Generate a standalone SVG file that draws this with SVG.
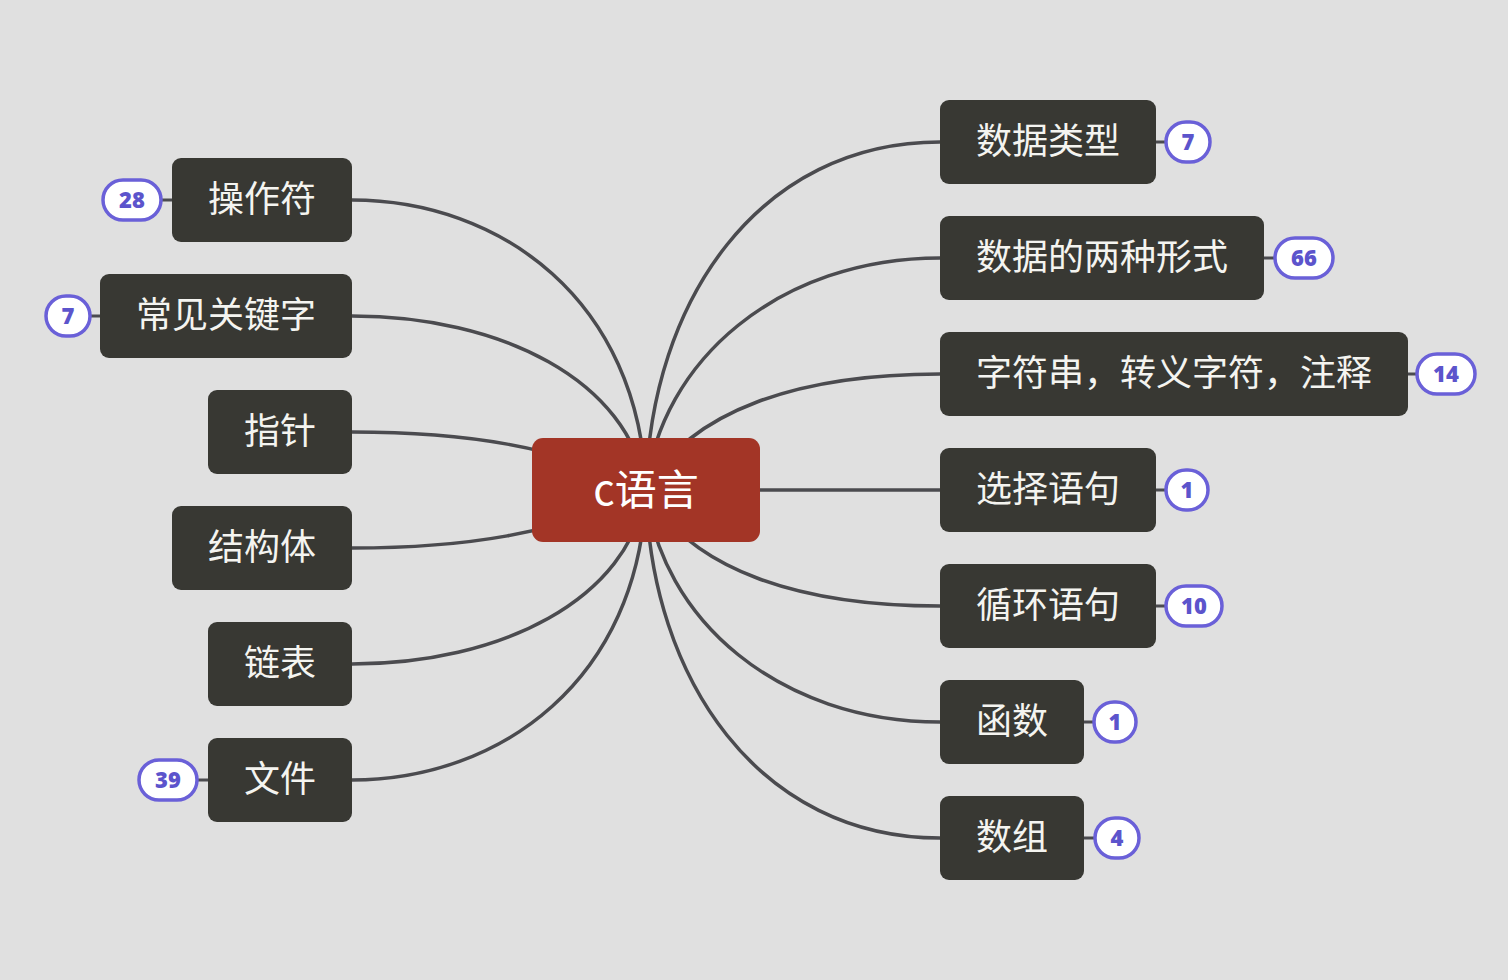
<svg xmlns="http://www.w3.org/2000/svg" width="1508" height="980" viewBox="0 0 1508 980">
<style>
.conn{fill:none;stroke:#4b4b4f;stroke-width:3.5;stroke-linecap:round}
.node rect{fill:#383833}
.node text{fill:#f4f4f0;font-family:"Noto Sans CJK SC","Noto Sans",sans-serif;font-size:36px;text-anchor:middle;dominant-baseline:central}
.root rect{fill:#a33526}
.root text{fill:#ffffff;font-family:"Noto Sans CJK SC","Noto Sans",sans-serif;font-size:42px;text-anchor:middle;dominant-baseline:central}
.badge rect{fill:#ffffff;stroke:#6a60d8;stroke-width:3.5}
.badge text{fill:#5c54cc;font-family:"Noto Sans","DejaVu Sans",sans-serif;font-weight:900;font-size:22px;text-anchor:middle;dominant-baseline:central}
.tick{stroke:#4b4b4f;stroke-width:3}
</style>
<rect width="1508" height="980" fill="#e0e0e0"/>
<g id="connectors">
<path class="conn" d="M352 200 C500 200 640 300 646 490"/>
<path class="conn" d="M352 316 C500 316 630 380 646 490"/>
<path class="conn" d="M352 432 C460 432 560 445 646 490"/>
<path class="conn" d="M352 548 C460 548 560 535 646 490"/>
<path class="conn" d="M352 664 C500 664 630 600 646 490"/>
<path class="conn" d="M352 780 C500 780 640 680 646 490"/>
<path class="conn" d="M940 142 C760 142 650 300 646 490"/>
<path class="conn" d="M940 258 C780 258 660 360 646 490"/>
<path class="conn" d="M940 374 C800 374 690 410 646 490"/>
<path class="conn" d="M760 490 L940 490"/>
<path class="conn" d="M940 606 C800 606 690 570 646 490"/>
<path class="conn" d="M940 722 C780 722 660 620 646 490"/>
<path class="conn" d="M940 838 C760 838 650 680 646 490"/>
<line class="tick" x1="1156" y1="142" x2="1168" y2="142"/>
<line class="tick" x1="1264" y1="258" x2="1276" y2="258"/>
<line class="tick" x1="1408" y1="374" x2="1418" y2="374"/>
<line class="tick" x1="1156" y1="490" x2="1168" y2="490"/>
<line class="tick" x1="1156" y1="606" x2="1168" y2="606"/>
<line class="tick" x1="1084" y1="722" x2="1096" y2="722"/>
<line class="tick" x1="1084" y1="838" x2="1096" y2="838"/>
<line class="tick" x1="160" y1="200" x2="172" y2="200"/>
<line class="tick" x1="88" y1="316" x2="100" y2="316"/>
<line class="tick" x1="196" y1="780" x2="208" y2="780"/>
</g>
<g id="root" class="root"><rect x="532" y="438" width="228" height="104" rx="11"/><text x="646" y="486">c语言</text></g>
<g id="n-caozuofu" class="node"><rect x="172" y="158" width="180" height="84" rx="9"/><text x="262" y="196">操作符</text></g>
<g id="n-changjian" class="node"><rect x="100" y="274" width="252" height="84" rx="9"/><text x="226" y="312">常见关键字</text></g>
<g id="n-zhizhen" class="node"><rect x="208" y="390" width="144" height="84" rx="9"/><text x="280" y="428">指针</text></g>
<g id="n-jiegouti" class="node"><rect x="172" y="506" width="180" height="84" rx="9"/><text x="262" y="544">结构体</text></g>
<g id="n-lianbiao" class="node"><rect x="208" y="622" width="144" height="84" rx="9"/><text x="280" y="660">链表</text></g>
<g id="n-wenjian" class="node"><rect x="208" y="738" width="144" height="84" rx="9"/><text x="280" y="776">文件</text></g>
<g id="n-shujuleixing" class="node"><rect x="940" y="100" width="216" height="84" rx="9"/><text x="1048" y="138">数据类型</text></g>
<g id="n-liangzhong" class="node"><rect x="940" y="216" width="324" height="84" rx="9"/><text x="1102" y="254">数据的两种形式</text></g>
<g id="n-zifuchuan" class="node"><rect x="940" y="332" width="468" height="84" rx="9"/><text x="1174" y="370">字符串，转义字符，注释</text></g>
<g id="n-xuanze" class="node"><rect x="940" y="448" width="216" height="84" rx="9"/><text x="1048" y="486">选择语句</text></g>
<g id="n-xunhuan" class="node"><rect x="940" y="564" width="216" height="84" rx="9"/><text x="1048" y="602">循环语句</text></g>
<g id="n-hanshu" class="node"><rect x="940" y="680" width="144" height="84" rx="9"/><text x="1012" y="718">函数</text></g>
<g id="n-shuzu" class="node"><rect x="940" y="796" width="144" height="84" rx="9"/><text x="1012" y="834">数组</text></g>
<g id="b-28" class="badge"><rect x="103" y="180" width="58" height="40" rx="20"/><text x="132" y="199">28</text></g>
<g id="b-7l" class="badge"><rect x="46" y="296" width="44" height="40" rx="20"/><text x="68" y="315">7</text></g>
<g id="b-39" class="badge"><rect x="139" y="760" width="58" height="40" rx="20"/><text x="168" y="779">39</text></g>
<g id="b-7r" class="badge"><rect x="1166" y="122" width="44" height="40" rx="20"/><text x="1188" y="141">7</text></g>
<g id="b-66" class="badge"><rect x="1275" y="238" width="58" height="40" rx="20"/><text x="1304" y="257">66</text></g>
<g id="b-14" class="badge"><rect x="1417" y="354" width="58" height="40" rx="20"/><text x="1446" y="373">14</text></g>
<g id="b-1a" class="badge"><rect x="1166" y="470" width="42" height="40" rx="20"/><text x="1187" y="489">1</text></g>
<g id="b-10" class="badge"><rect x="1166" y="586" width="56" height="40" rx="20"/><text x="1194" y="605">10</text></g>
<g id="b-1b" class="badge"><rect x="1094" y="702" width="42" height="40" rx="20"/><text x="1115" y="721">1</text></g>
<g id="b-4" class="badge"><rect x="1095" y="818" width="44" height="40" rx="20"/><text x="1117" y="837">4</text></g>
</svg>
